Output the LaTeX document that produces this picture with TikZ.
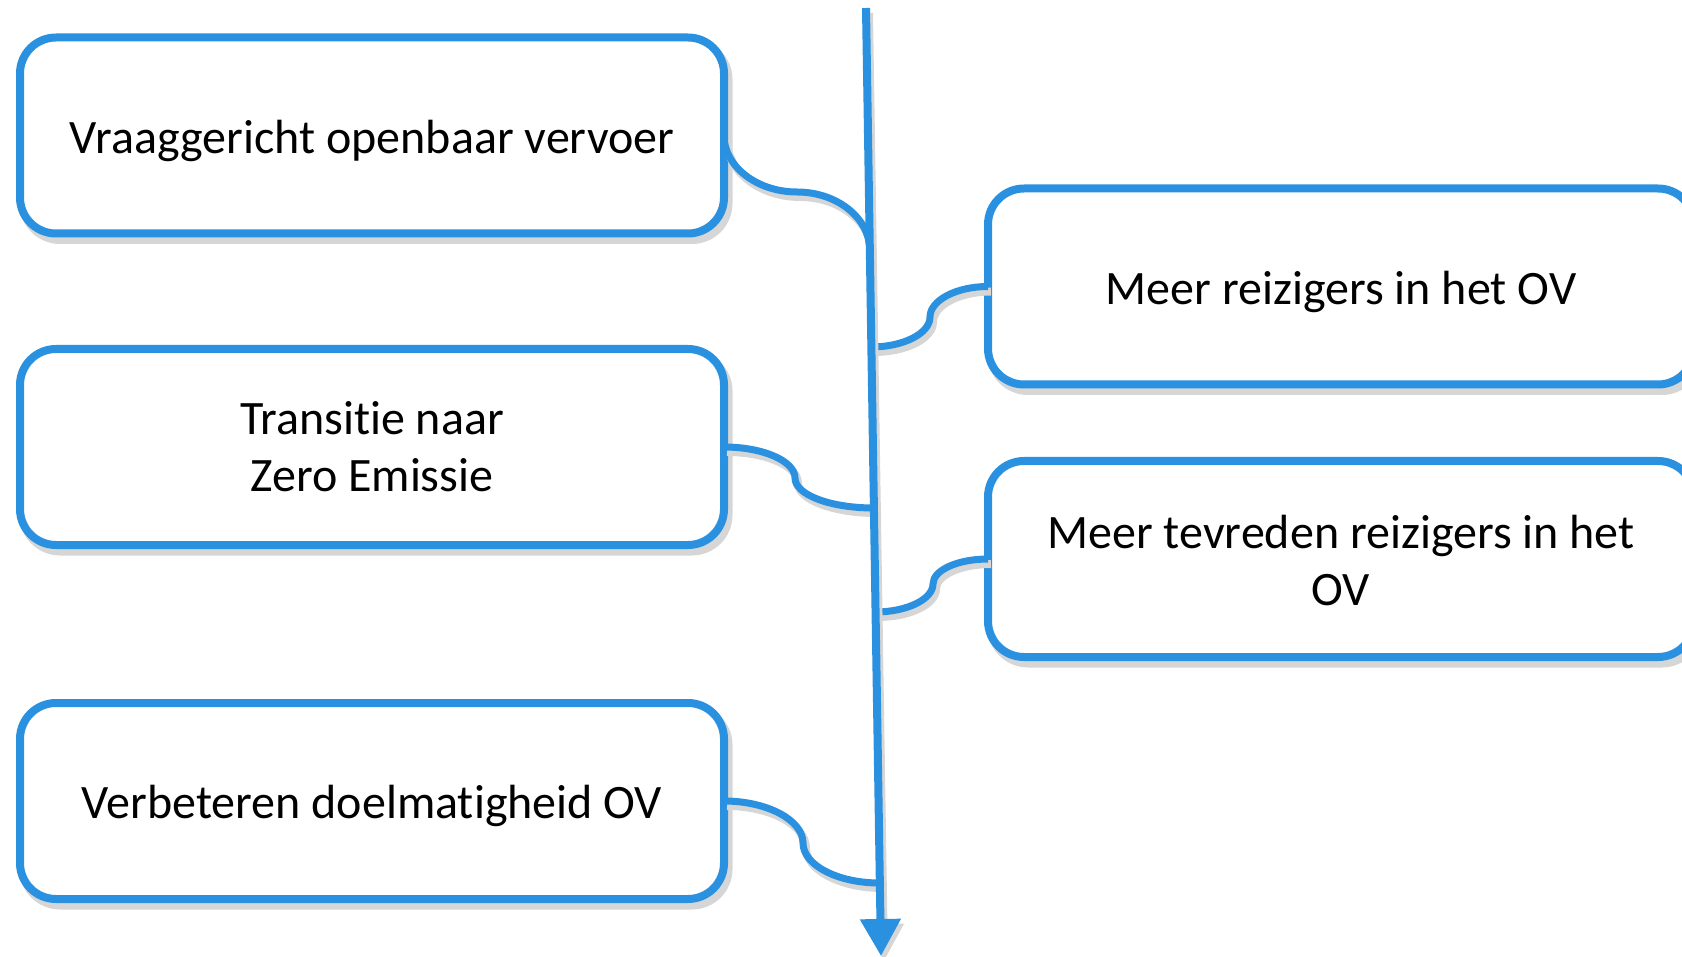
\documentclass[tikz,border=0pt]{standalone}
\usepackage{fontspec}
\setmainfont{Carlito}[Ligatures=CommonOff]
\usetikzlibrary{arrows.meta,calc}
\definecolor{ovblue}{RGB}{42,144,224}
\begin{document}
\begin{tikzpicture}[x=1pt,y=-1pt,
  boxshadow/.style={preaction={draw=black!16, fill=black!16, line width=9pt, transform canvas={shift={(4pt,-6pt)}}}},
  box/.style={boxshadow, draw=ovblue, line width=8pt, fill=white, rounded corners=36pt,
    minimum width=704pt, minimum height=196pt, outer sep=0pt, inner sep=0pt},
  lbl/.style={align=center, inner sep=0pt, font=\fontsize{48}{57}\selectfont},
  linkshadow/.style={preaction={draw=black!16, line width=8pt, transform canvas={shift={(3pt,-5pt)}}}},
  link/.style={linkshadow, draw=ovblue, line width=7pt},
]
\useasboundingbox (0,0) rectangle (1682,957);
\clip (0,0) rectangle (1682,957);
% boxes
\node[box] (b1) at (372,135.5) {};
\node[box] (b2) at (372,447) {};
\node[box] (b3) at (372,801) {};
\node[box, minimum width=706pt] (r1) at (1341,286.5) {};
\node[box, minimum width=706pt] (r2) at (1341,559) {};
% texts
\node[lbl] (t1) at ([yshift=-5pt]b1.center) {Vraaggericht openbaar vervoer};
\node[lbl] (t2) at (b2.center) {Transitie naar\\Zero Emissie};
\node[lbl] (t3) at ([yshift=-5pt]b3.center) {Verbeteren doelmatigheid OV};
\node[lbl] (t4) at ([yshift=-5pt]r1.center) {Meer reizigers in het OV};
\node[lbl] (t5) at ([yshift=-1pt]r2.center) {Meer tevreden reizigers in het\\OV};
% points on the main line
\coordinate (top) at (866,8);
\coordinate (tip) at (881,956);
\coordinate (j1) at (869.7,250);
\coordinate (j2) at (871.2,347);
\coordinate (j3) at (873.7,508);
\coordinate (j4) at (875.3,612);
\coordinate (j5) at (879.4,883);
% middle points of the connectors
\coordinate (m1) at (797,192);
\coordinate (m2) at (930,317);
\coordinate (m3) at (795,478);
\coordinate (m4) at (933,584);
\coordinate (m5) at (803,843);
% connectors
\draw[link] (b1.east) .. controls +(0,31) and +(-40,0) .. (m1) .. controls +(40,0) and +(0,-32) .. (j1);
\draw[link] (b2.east) .. controls +(39,0) and +(0,-17) .. (m3) .. controls +(0,17) and +(-43,0) .. (j3);
\draw[link] (b3.east) .. controls +(43,0) and +(0,-23) .. (m5) .. controls +(0,22) and +(-42,0) .. (j5);
\draw[link] (j2) .. controls +(32,0) and +(0,16.5) .. (m2) .. controls +(0,-16.5) and +(-32,0) .. (r1.west);
\draw[link] (j4) .. controls +(32,0) and +(0,15) .. (m4) .. controls +(0,-14) and +(-30,0) .. (r2.west);
% main line
\draw[link, line width=8pt, -{Triangle[width=39pt,length=37pt]}] (top) -- (tip);
\end{tikzpicture}
\end{document}
